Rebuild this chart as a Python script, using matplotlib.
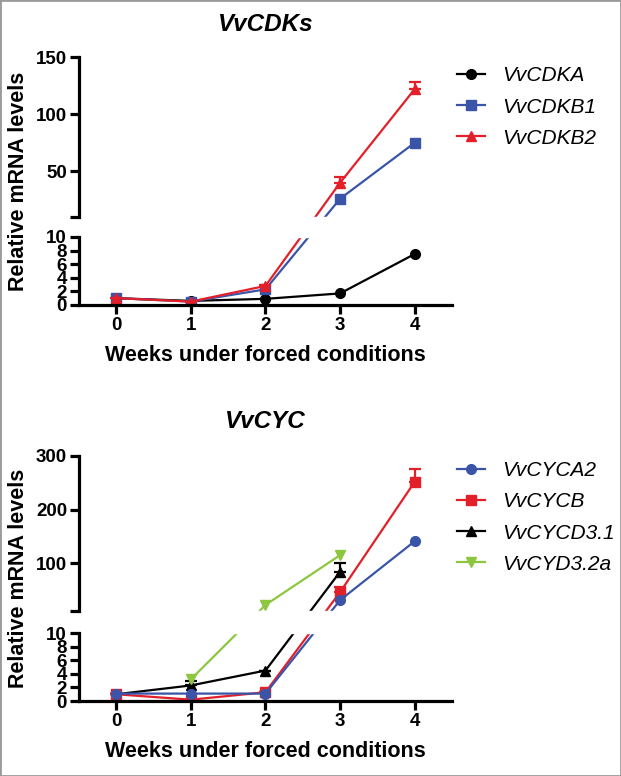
import matplotlib
matplotlib.use('Agg')
import matplotlib.pyplot as plt
import numpy as np

plt.rcParams['font.family'] = ['Liberation Sans', 'DejaVu Sans']

weeks = [0, 1, 2, 3, 4]

# top panel: VvCDKs
cdka = [1.0, 0.6, 0.9, 1.7, 7.5]
cdkb1 = [1.0, 0.5, 2.3, 26, 75]
cdkb2 = [1.0, 0.5, 2.8, 40, 122]
cdkb2_err = [0, 0, 0.2, 5, 6]

# bottom panel: VvCYC
cyca2 = [1.1, 1.1, 1.1, 31, 141]
cycb = [1.0, 0.2, 1.3, 46, 252]
cycb_err = [0, 0, 0, 9, 23]
cycd31_weeks = [0, 1, 2, 3]
cycd31 = [1.0, 2.3, 4.5, 84]
cycd31_err = [0, 0.7, 0, 17]
cycd32a_weeks = [1, 2, 3]
cycd32a = [3.2, 22, 115]

BLACK = '#000000'
BLUE = '#3a55a8'
RED = '#e3202a'
GREEN = '#8dc63f'

LW_AX = 2.3
LW = 1.6
MS = 7


def broken_scale(low_px, gap_px, up_px, ymax):
    k_low = low_px / 10.0
    k_up = up_px / (ymax - 10.0)

    def fwd(y):
        y = np.asarray(y, dtype=float)
        return np.where(y <= 10, y * k_low, low_px + gap_px + (y - 10) * k_up)

    def inv(u):
        u = np.asarray(u, dtype=float)
        return np.where(u <= low_px, u / k_low,
                        np.where(u < low_px + gap_px, 10.0,
                                 10 + (u - low_px - gap_px) / k_up))
    return fwd, inv


def setup_axes(ax, gap_px, up_px, ymax, up_ticks, title, title_pad):
    ax.set_yscale('function', functions=broken_scale(68, gap_px, up_px, ymax))
    ax.set_xlim(-0.5, 4.5)
    ax.set_ylim(0, ymax)
    eps = 1e-4
    ticks = [0, 2, 4, 6, 8, 10, 10 + eps] + up_ticks
    labels = ['0', '2', '4', '6', '8', '10', ''] + [str(t) for t in up_ticks]
    ax.set_yticks(ticks)
    ax.set_yticklabels(labels)
    ax.yaxis.set_minor_locator(matplotlib.ticker.NullLocator())
    ax.set_xticks(weeks)
    for s in ['top', 'right', 'left']:
        ax.spines[s].set_visible(False)
    ax.spines['bottom'].set_linewidth(LW_AX)
    trans = ax.get_yaxis_transform()
    ax.plot([0, 0], [0, 10], transform=trans, color='k', lw=LW_AX,
            clip_on=False, solid_capstyle='projecting', zorder=5)
    ax.plot([0, 0], [10 + eps, ymax], transform=trans, color='k', lw=LW_AX,
            clip_on=False, solid_capstyle='projecting', zorder=5)
    # white band hides the lines inside the axis break
    ax.axhspan(10, 10 + eps, color='white', zorder=3)
    ax.tick_params(width=LW_AX, length=6.5, labelsize=13.5, pad=2)
    for lab in ax.get_xticklabels() + ax.get_yticklabels():
        lab.set_fontweight('bold')
    ax.set_xlabel('Weeks under forced conditions', fontsize=15.5,
                  fontweight='bold', labelpad=8)
    ax.set_ylabel('Relative mRNA levels', fontsize=15.5, fontweight='bold',
                  labelpad=5)
    ax.set_title(title, fontsize=17.5, fontweight='bold', style='italic',
                 pad=title_pad)


fig = plt.figure(figsize=(6.21, 7.76), dpi=100)
ax1 = fig.add_axes([0.127, 0.607, 0.601, 0.3195])
ax2 = fig.add_axes([0.127, 0.0966, 0.601, 0.3158])

setup_axes(ax1, 20, 160, 150, [50, 100, 150], 'VvCDKs', 19)
setup_axes(ax2, 22, 156, 300, [100, 200, 300], 'VvCYC', 20)

# top panel series
ax1.plot(weeks, cdka, color=BLACK, marker='o', lw=LW, ms=MS, label='VvCDKA')
ax1.plot(weeks, cdkb1, color=BLUE, marker='s', lw=LW, ms=MS, label='VvCDKB1')
ax1.plot(weeks, cdkb2, color=RED, marker='^', lw=LW, ms=MS, label='VvCDKB2')
ax1.errorbar(weeks, cdkb2, yerr=[np.zeros(5), cdkb2_err], fmt='none',
             ecolor=RED, elinewidth=LW, capsize=4, capthick=LW)

# bottom panel series
ax2.plot(weeks, cyca2, color=BLUE, marker='o', lw=LW, ms=MS, label='VvCYCA2', zorder=2.4)
ax2.plot(weeks, cycb, color=RED, marker='s', lw=LW, ms=MS, label='VvCYCB', zorder=2.2)
ax2.errorbar(weeks, cycb, yerr=[np.zeros(5), cycb_err], fmt='none',
             ecolor=RED, elinewidth=LW, capsize=4, capthick=LW, zorder=2.2)
ax2.plot(cycd31_weeks, cycd31, color=BLACK, marker='^', lw=LW, ms=MS, label='VvCYCD3.1')
ax2.errorbar(cycd31_weeks, cycd31, yerr=[np.zeros(4), cycd31_err], fmt='none',
             ecolor=BLACK, elinewidth=LW, capsize=4, capthick=LW)
ax2.plot(cycd32a_weeks, cycd32a, color=GREEN, marker='v', lw=LW, ms=MS, label='VvCYD3.2a')

for ax, top in [(ax1, 0.962), (ax2, 0.978)]:
    ax.legend(loc='upper left', bbox_to_anchor=(1.013, top), frameon=False,
              prop={'size': 15, 'style': 'italic'}, handlelength=1.35,
              handletextpad=0.8, labelspacing=0.58, borderpad=0,
              borderaxespad=0)

fig.add_artist(plt.Rectangle((0, 0), 1, 1, transform=fig.transFigure,
                             fill=False, edgecolor='#9a9a9a', lw=2))

fig.savefig('out.png', dpi=100)
